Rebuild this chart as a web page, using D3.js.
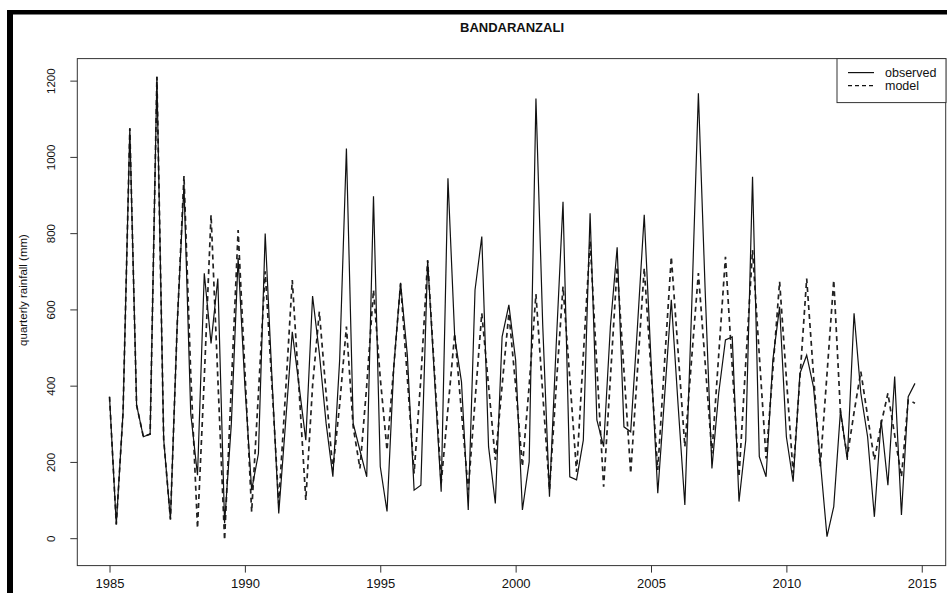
<!DOCTYPE html>
<html><head><meta charset="utf-8">
<script src="https://cdn.jsdelivr.net/npm/d3@7"></script>
<style>
body{margin:0;background:#fff}
svg{display:block}
text{font-family:"Liberation Sans",Arial,Helvetica,sans-serif;fill:#111}
</style>
</head><body>
<svg id="c" width="947" height="593"></svg>
<script>
const title = "BANDARANZALI";
const yLabel = "quarterly rainfall (mm)";
const seriesNames = ["observed", "model"];
const startYear = 1985;
const quartersPerYear = 4;

const observed = [
 371, 36, 330, 1075, 349, 266, 273, 1210, 260, 49, 560, 926,
 327, 165, 695, 511, 681, 39, 300, 735, 400, 126, 222, 799,
 420, 65, 300, 541, 400, 257, 635, 485, 301, 161, 467, 1022,
 301, 230, 161, 897, 188, 70, 450, 670, 480, 126, 139, 729,
 424, 122, 944, 528, 410, 74, 651, 791, 240, 91, 528, 612,
 467, 74, 200, 1153, 560, 109, 510, 882, 161, 153, 257, 852,
 310, 240, 555, 763, 292, 279, 555, 848, 467, 118, 370, 625,
 350, 87, 600, 1167, 650, 183, 380, 520, 528, 96, 257, 948,
 214, 161, 467, 607, 266, 148, 432, 480, 397, 205, 4, 83,
 336, 205, 590, 380, 266, 56, 310, 139, 424, 61, 371, 406
];

const model = [
 371, 36, 330, 1075, 349, 266, 273, 1210, 260, 49, 560, 950,
 430, 26, 420, 848, 420, -5, 400, 808, 440, 69, 380, 700,
 400, 91, 380, 677, 390, 100, 400, 594, 380, 179, 350, 555,
 292, 183, 400, 651, 420, 231, 450, 668, 420, 170, 420, 729,
 440, 144, 340, 537, 330, 126, 360, 590, 400, 205, 400, 590,
 400, 188, 400, 640, 380, 126, 400, 660, 420, 174, 480, 780,
 450, 135, 420, 712, 440, 170, 440, 708, 440, 179, 460, 738,
 490, 240, 470, 695, 460, 222, 480, 738, 450, 161, 460, 756,
 480, 209, 440, 673, 420, 170, 420, 681, 430, 188, 430, 677,
 327, 214, 330, 437, 320, 205, 300, 380, 270, 161, 362, 354
];

const xTicks = [1985, 1990, 1995, 2000, 2005, 2010, 2015];
const yTicks = [0, 200, 400, 600, 800, 1000, 1200];

const svg = d3.select("#c");
const W = 947, H = 593;
const plot = {left: 77.3, right: 947.2, top: 58.6, bottom: 565.6};

const x = d3.scaleLinear().domain([1983.81, 2015.94]).range([plot.left, plot.right]);
const y = d3.scaleLinear().domain([-71.9, 1257.8]).range([plot.bottom, plot.top]);

const t = i => startYear + i / quartersPerYear;

// outer frame (thick black on left and top)
svg.append("rect").attr("x", 7).attr("y", 10).attr("width", W - 7).attr("height", 4.5).attr("fill", "#000");
svg.append("rect").attr("x", 7).attr("y", 10).attr("width", 6).attr("height", H - 10).attr("fill", "#000");

// title
svg.append("text").attr("x", 512).attr("y", 32).attr("text-anchor", "middle")
  .attr("font-weight", "bold").attr("font-size", 13).text(title);

// lines
const lineGen = d3.line().x((d, i) => x(t(i))).y(d => y(d));
svg.append("path").datum(model).attr("d", lineGen)
  .attr("fill", "none").attr("stroke", "#222").attr("stroke-width", 1.7)
  .attr("stroke-dasharray", "5,4");
svg.append("path").datum(observed).attr("d", lineGen)
  .attr("fill", "none").attr("stroke", "#111").attr("stroke-width", 1.2)
  .attr("stroke-linejoin", "miter");

// plot box
svg.append("rect").attr("x", plot.left).attr("y", plot.top)
  .attr("width", plot.right - plot.left - 1.5).attr("height", plot.bottom - plot.top)
  .attr("fill", "none").attr("stroke", "#333").attr("stroke-width", 1);

// x axis
const gx = svg.append("g").attr("transform", `translate(0,${plot.bottom})`)
  .call(d3.axisBottom(x).tickValues(xTicks).tickSize(7).tickPadding(6).tickFormat(d3.format("d")));
gx.select(".domain").remove();
gx.selectAll("line").attr("stroke", "#333");
gx.selectAll("text").attr("font-size", 13).style("font-family", "'Liberation Sans', Arial, sans-serif").attr("fill", "#111");

// y axis
const gy = svg.append("g").attr("transform", `translate(${plot.left},0)`)
  .call(d3.axisLeft(y).tickValues(yTicks).tickSize(7).tickFormat(d3.format("d")));
gy.select(".domain").remove();
gy.selectAll("line").attr("stroke", "#333");
gy.selectAll("text").attr("x", 0).attr("dy", 0)
  .attr("transform", "translate(-22,0) rotate(-90)")
  .attr("text-anchor", "middle").attr("font-size", 11.5)
  .style("font-family", "'Liberation Sans', Arial, sans-serif").attr("fill", "#111");

// y label
svg.append("text").attr("transform", "translate(27,290) rotate(-90)")
  .attr("text-anchor", "middle").attr("font-size", 11.5).text(yLabel);

// legend
const lg = svg.append("g");
const lx0 = 837, ly0 = plot.top, lw = 946 - 837, lh = 44;
lg.append("rect").attr("x", lx0).attr("y", ly0).attr("width", lw).attr("height", lh)
  .attr("fill", "#fff").attr("stroke", "#333").attr("stroke-width", 1);
const styles = [{dash: null, w: 1.2}, {dash: "4,3", w: 1.3}];
seriesNames.forEach((name, k) => {
  const yy = ly0 + 14 + k * 13;
  lg.append("line").attr("x1", 848).attr("x2", 874).attr("y1", yy).attr("y2", yy)
    .attr("stroke", "#111").attr("stroke-width", styles[k].w)
    .attr("stroke-dasharray", styles[k].dash);
  lg.append("text").attr("x", 885).attr("y", yy + 4).attr("font-size", 12.5).text(name);
});
</script>
</body></html>
